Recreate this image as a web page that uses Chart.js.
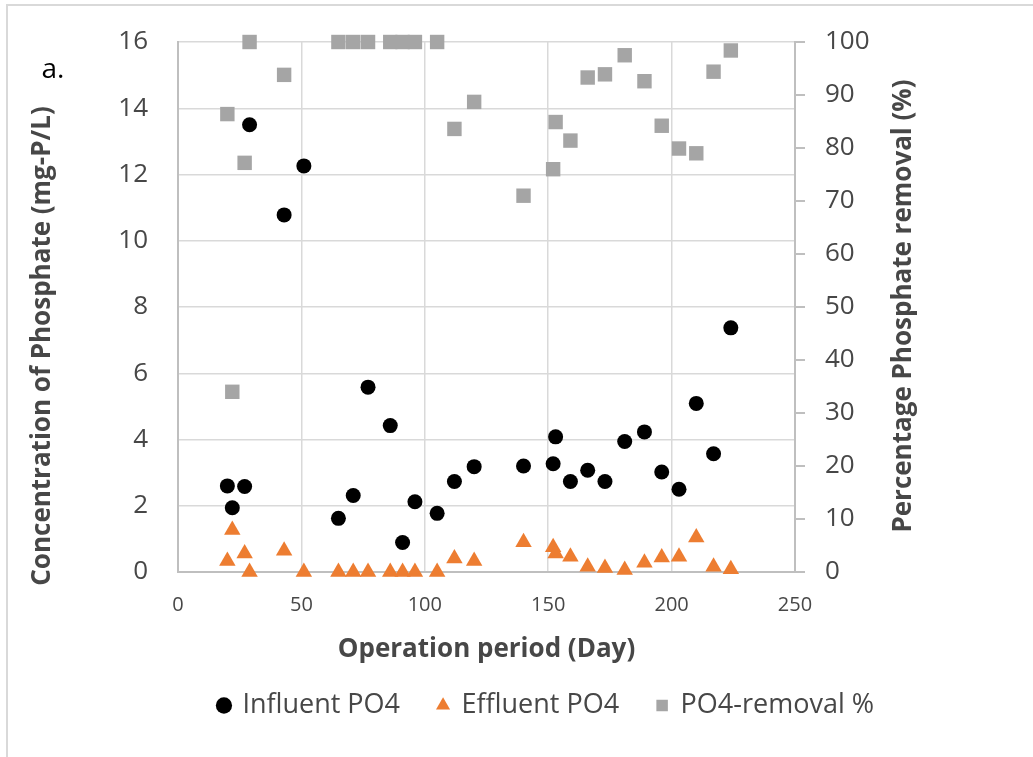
<!DOCTYPE html>
<html>
<head>
<meta charset="utf-8">
<script src="https://cdn.jsdelivr.net/npm/chart.js@4.4.1/dist/chart.umd.min.js"></script>
<style>
  html, body { margin: 0; padding: 0; background: #ffffff; }
  #wrap { position: relative; width: 1033px; height: 757px; overflow: hidden; }
  #frame { position: absolute; left: 6px; top: 4px; width: 1100px; height: 800px;
           border-left: 2px solid #d9d9d9; border-top: 2px solid #d9d9d9; }
  canvas { position: absolute; left: 0; top: 0; }
</style>
</head>
<body>
<div id="wrap">
  <div id="frame"></div>
  <canvas id="chart" width="1033" height="757"></canvas>
</div>
<script>
// Sampling days of the operation period
const days = [20, 22, 27, 29, 43, 51, 65, 71, 77, 86, 91, 96, 105, 112, 120,
              140, 152, 153, 159, 166, 173, 181, 189, 196, 203, 210, 217, 224];

// Phosphate concentration (mg-P/L)
const influentPO4 = [2.60, 1.94, 2.58, 13.50, 10.78, 12.26, 1.62, 2.31, 5.58, 4.42, 0.89, 2.12, 1.77, 2.73, 3.18,
                     3.20, 3.27, 4.08, 2.73, 3.07, 2.73, 3.94, 4.23, 3.02, 2.50, 5.09, 3.57, 7.37];
const effluentPO4 = [0.33, 1.27, 0.56, 0, 0.64, 0, 0, 0, 0, 0, 0, 0, 0, 0.41, 0.33,
                     0.90, 0.75, 0.56, 0.46, 0.16, 0.12, 0.06, 0.28, 0.44, 0.46, 1.04, 0.16, 0.08];

// Phosphate removal (%)
const removalPct = [86.4, 34.0, 77.2, 100, 93.8, null, 100, 100, 100, 100, 100, 100, 100, 83.6, 88.7,
                    71.0, 76.0, 84.9, 81.4, 93.3, 93.9, 97.5, 92.6, 84.2, 79.9, 79.0, 94.4, 98.4];

// Axis ticks
const dayTicks = [0, 50, 100, 150, 200, 250];
const concTicks = [0, 2, 4, 6, 8, 10, 12, 14, 16];
const pctTicks = [0, 10, 20, 30, 40, 50, 60, 70, 80, 90, 100];

// Labels
const seriesNames = ['Influent PO4', 'Effluent PO4', 'PO4-removal %'];
const xTitle = 'Operation period (Day)';
const leftTitle = 'Concentration of Phosphate (mg-P/L)';
const rightTitle = 'Percentage Phosphate removal (%)';
const panelTag = 'a.';

const textColor = '#474747';

const toPoints = (vals) => days.map((d, i) => ({ x: d, y: vals[i] }));
const useTicks = (list) => (scale) => { scale.ticks = list.map(v => ({ value: v })); };

Chart.defaults.font.family = "'Open Sans', sans-serif";

// Vertical axis titles (both read bottom-to-top) and the panel tag
const sideTitles = {
  id: 'sideTitles',
  afterDraw(chart) {
    const ctx = chart.ctx;
    ctx.save();
    ctx.textAlign = 'center';
    ctx.textBaseline = 'middle';
    ctx.fillStyle = textColor;
    ctx.font = "bold 26px 'Open Sans', sans-serif";
    ctx.translate(43, 346);
    ctx.rotate(-Math.PI / 2);
    ctx.fillText(leftTitle, 0, 0);
    ctx.setTransform(1, 0, 0, 1, 0, 0);
    ctx.translate(904, 306);
    ctx.rotate(-Math.PI / 2);
    ctx.fillText(rightTitle, 0, 0);
    ctx.setTransform(1, 0, 0, 1, 0, 0);
    ctx.fillStyle = '#000000';
    ctx.font = "28px 'Open Sans', sans-serif";
    ctx.fillText(panelTag, 53, 70);
    ctx.restore();
  }
};

new Chart(document.getElementById('chart'), {
  type: 'scatter',
  data: {
    datasets: [
      {
        label: seriesNames[0],
        data: toPoints(influentPO4),
        yAxisID: 'y',
        pointStyle: 'circle',
        pointRadius: 7.5,
        backgroundColor: '#000000',
        borderColor: '#000000',
        borderWidth: 0,
        clip: false
      },
      {
        label: seriesNames[1],
        data: toPoints(effluentPO4),
        yAxisID: 'y',
        pointStyle: 'triangle',
        pointRadius: 9.5,
        backgroundColor: '#ED7D31',
        borderColor: '#ED7D31',
        borderWidth: 0,
        clip: false
      },
      {
        label: seriesNames[2],
        data: toPoints(removalPct),
        yAxisID: 'y1',
        pointStyle: 'rect',
        pointRadius: 10.2,
        backgroundColor: '#A5A5A5',
        borderColor: '#A5A5A5',
        borderWidth: 0,
        clip: false
      }
    ]
  },
  options: {
    responsive: false,
    animation: false,
    devicePixelRatio: 1,
    events: [],
    layout: { padding: { top: 42, bottom: 28, left: 67, right: 7 } },
    plugins: {
      tooltip: { enabled: false },
      legend: {
        position: 'bottom',
        align: 'center',
        labels: {
          usePointStyle: true,
          boxWidth: 10,
          boxHeight: 11.5,
          padding: 38,
          color: textColor,
          font: { size: 27 }
        }
      }
    },
    scales: {
      x: {
        type: 'linear',
        position: 'bottom',
        min: 0,
        max: 250,
        afterBuildTicks: useTicks(dayTicks),
        afterFit: (s) => { s.height = 82; },
        grid: { color: '#d9d9d9', lineWidth: 1.5, drawTicks: false },
        border: { color: '#bfbfbf', width: 2 },
        ticks: { color: textColor, font: { size: 20 }, padding: 21, maxRotation: 0, autoSkip: false },
        title: {
          display: true,
          text: xTitle,
          color: textColor,
          font: { size: 26, weight: 'bold' },
          padding: { top: 0, bottom: -11 }
        }
      },
      y: {
        type: 'linear',
        position: 'left',
        min: 0,
        max: 16,
        afterBuildTicks: useTicks(concTicks),
        afterFit: (s) => { s.width = 111; },
        // invisible tick marks keep the labels clear of the axis without extra label padding
        grid: { color: '#d9d9d9', lineWidth: 1.5, drawTicks: true, tickLength: 26, tickColor: 'rgba(0,0,0,0)' },
        border: { color: '#bfbfbf', width: 2 },
        ticks: { color: textColor, font: { size: 26 }, padding: 4, autoSkip: false }
      },
      y1: {
        type: 'linear',
        position: 'right',
        min: 0,
        max: 100,
        afterBuildTicks: useTicks(pctTicks),
        afterFit: (s) => { s.width = 231; },
        grid: { display: true, drawOnChartArea: false, drawTicks: true, tickLength: 10, color: '#bfbfbf', lineWidth: 2 },
        border: { color: '#bfbfbf', width: 2 },
        ticks: { color: textColor, font: { size: 26 }, padding: 20, autoSkip: false }
      }
    }
  },
  plugins: [sideTitles]
});
</script>
</body>
</html>
